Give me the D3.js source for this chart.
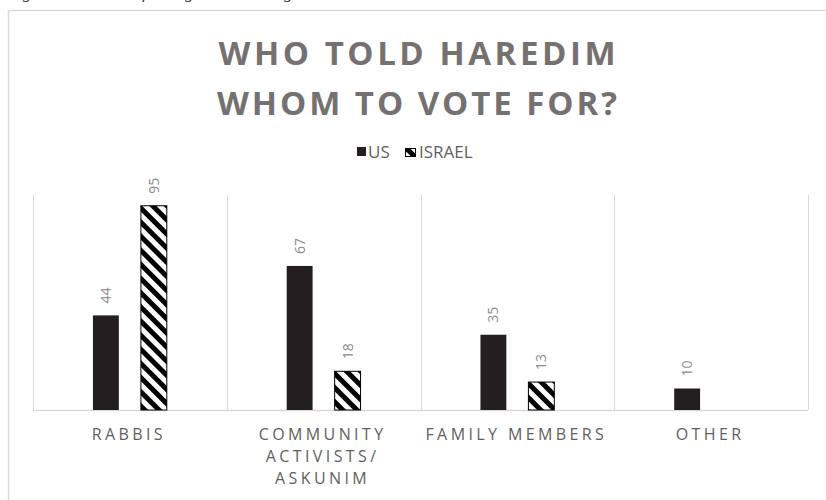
<!DOCTYPE html>
<html>
<head>
<meta charset="utf-8">
<script src="https://cdn.jsdelivr.net/npm/d3@7"></script>
<style>
  html, body { margin: 0; padding: 0; background: #fff; }
  svg { display: block; }
</style>
</head>
<body>
<svg id="chart" width="826" height="500"></svg>
<script>
// Survey data: share of respondents (%) naming each source of voting guidance
const categories = ["RABBIS", "COMMUNITY ACTIVISTS/ ASKUNIM", "FAMILY MEMBERS", "OTHER"];
const categoryLines = [["RABBIS"], ["COMMUNITY", "ACTIVISTS/", "ASKUNIM"], ["FAMILY MEMBERS"], ["OTHER"]];
const seriesNames = ["US", "ISRAEL"];
const usValues = [44, 67, 35, 10];
const israelValues = [95, 18, 13, null];
const titleLines = ["WHO TOLD HAREDIM", "WHOM TO VOTE FOR?"];
const captionText = "Figure 6: Sources of voting advice among Haredim in the US and Israel";

const svg = d3.select("#chart");
const W = 826, H = 500;

// hatch fill for the Israel series
const defs = svg.append("defs");
const P = 10;
const pat = defs.append("pattern")
  .attr("id", "hatch")
  .attr("patternUnits", "userSpaceOnUse")
  .attr("width", P).attr("height", P)
  .attr("patternTransform", "rotate(-45)");
pat.append("rect").attr("width", P).attr("height", P).attr("fill", "#fff");
pat.append("rect").attr("width", P / 2).attr("height", P).attr("fill", "#000");

svg.append("rect").attr("width", W).attr("height", H).attr("fill", "#fff");

// caption of the page above the chart box (mostly cut off at the top edge)
svg.append("text")
  .attr("x", 8).attr("y", -2.5)
  .attr("font-family", "Liberation Serif, serif")
  .attr("font-style", "italic")
  .attr("font-size", 17)
  .attr("fill", "#333")
  .text(captionText);

// chart frame
svg.append("line").attr("x1", 8).attr("x2", W).attr("y1", 10.5).attr("y2", 10.5)
  .attr("stroke", "#d9d9d9").attr("stroke-width", 1.5);
svg.append("line").attr("x1", 8.5).attr("x2", 8.5).attr("y1", 10).attr("y2", H)
  .attr("stroke", "#d9d9d9").attr("stroke-width", 1.5);

// title
const titleWidths = [397, 400];
const title = svg.append("g")
  .attr("font-family", "Open Sans, sans-serif")
  .attr("font-weight", 700)
  .attr("font-size", 33)
  .attr("fill", "#767171");
titleLines.forEach((t, i) => {
  title.append("text")
    .attr("x", 417 - titleWidths[i] / 2)
    .attr("y", 65 + i * 50)
    .attr("textLength", titleWidths[i])
    .attr("lengthAdjust", "spacing")
    .text(t);
});

// scales
const plot = { left: 33, right: 808, top: 195, bottom: 410 };
const x = d3.scaleBand().domain(categories).range([plot.left, plot.right]).paddingInner(0).paddingOuter(0);
const xs = d3.scaleBand().domain(seriesNames).range([0, x.bandwidth()]).paddingInner(0.46).paddingOuter(1.25);
const y = d3.scaleLinear().domain([0, 100]).range([plot.bottom, plot.top]);

// vertical category dividers
const dividers = categories.map(c => x(c)).concat([plot.right]);
svg.append("g").selectAll("line").data(dividers).join("line")
  .attr("x1", d => Math.round(d) + 0.5).attr("x2", d => Math.round(d) + 0.5)
  .attr("y1", y(100)).attr("y2", y(0))
  .attr("stroke", "#d9d9d9").attr("stroke-width", 1);

// baseline
svg.append("line")
  .attr("x1", plot.left).attr("x2", plot.right)
  .attr("y1", y(0) + 0.5).attr("y2", y(0) + 0.5)
  .attr("stroke", "#d9d9d9").attr("stroke-width", 1.5);

// bars
const rows = [];
categories.forEach((c, i) => {
  rows.push({ cat: c, series: "US", value: usValues[i] });
  if (israelValues[i] != null) rows.push({ cat: c, series: "ISRAEL", value: israelValues[i] });
});

svg.append("g").selectAll("rect").data(rows).join("rect")
  .attr("x", d => x(d.cat) + xs(d.series))
  .attr("y", d => y(d.value))
  .attr("width", xs.bandwidth())
  .attr("height", d => y(0) - y(d.value))
  .attr("fill", d => d.series === "US" ? "#231f20" : "url(#hatch)")
  .attr("stroke", d => d.series === "US" ? "none" : "#000")
  .attr("stroke-width", 1);

// rotated value labels
svg.append("g").selectAll("text").data(rows).join("text")
  .attr("transform", d => `translate(${x(d.cat) + xs(d.series) + xs.bandwidth() / 2},${y(d.value) - 12}) rotate(-90)`)
  .attr("dy", "0.35em")
  .attr("font-family", "Open Sans, sans-serif")
  .attr("font-size", 14)
  .attr("fill", "#8c8c8c")
  .text(d => d.value);

// category labels
const catG = svg.append("g")
  .attr("font-family", "Open Sans, sans-serif")
  .attr("font-size", 16)
  .attr("letter-spacing", 3.4)
  .attr("fill", "#5f5f5f")
  .attr("text-anchor", "middle");
categories.forEach((c, i) => {
  const t = catG.append("text");
  categoryLines[i].forEach((line, j) => {
    t.append("tspan")
      .attr("x", x(c) + x.bandwidth() / 2 - 1)
      .attr("y", 440 + j * 22)
      .text(line);
  });
});

// legend
const legend = svg.append("g")
  .attr("font-family", "Open Sans, sans-serif")
  .attr("font-size", 17)
  .attr("fill", "#5f5f5f");
legend.append("rect").attr("x", 357).attr("y", 147).attr("width", 9).attr("height", 9).attr("fill", "#231f20");
legend.append("text").attr("x", 368).attr("y", 158).text(seriesNames[0]);
legend.append("rect").attr("x", 405.5).attr("y", 148.5).attr("width", 10).attr("height", 8)
  .attr("fill", "url(#hatch)").attr("stroke", "#000").attr("stroke-width", 1);
legend.append("text").attr("x", 419).attr("y", 158).text(seriesNames[1]);
</script>
</body>
</html>
